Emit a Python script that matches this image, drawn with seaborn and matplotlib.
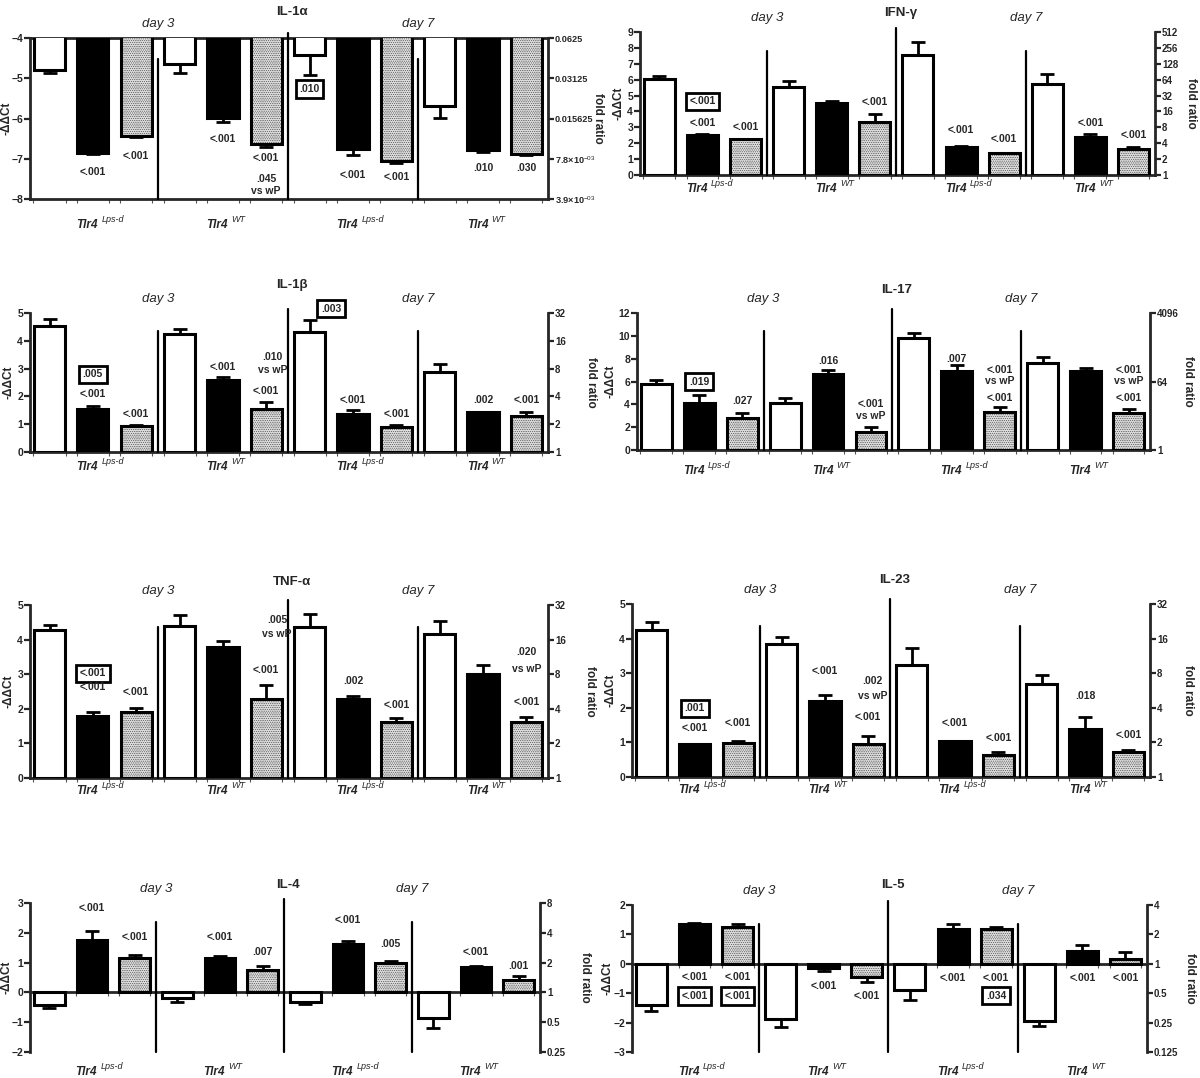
import numpy as np
import pandas as pd
import matplotlib
matplotlib.use("Agg")
import matplotlib.pyplot as plt
import seaborn as sns

# ---------------- data ----------------
treatments = ["open", "black", "dotted"]
group_strains = ["Lps-d", "WT", "Lps-d", "WT"]
day_labels = ["day 3", "day 7"]

il1a_mean = [-4.80, -6.85, -6.44, -4.64, -5.98, -6.63, -4.42, -6.75, -7.06, -5.70, -6.79, -6.87]
il1a_sem = [0.07, 0.02, 0.03, 0.23, 0.10, 0.09, 0.50, 0.16, 0.04, 0.28, 0.03, 0.03]
ifng_mean = [6.07, 2.51, 2.24, 5.54, 4.56, 3.35, 7.53, 1.78, 1.36, 5.75, 2.41, 1.63]
ifng_sem = [0.16, 0.04, 0.04, 0.36, 0.08, 0.46, 0.84, 0.06, 0.04, 0.59, 0.16, 0.15]
il1b_mean = [4.54, 1.54, 0.92, 4.25, 2.58, 1.56, 4.33, 1.36, 0.89, 2.86, 1.43, 1.30]
il1b_sem = [0.23, 0.13, 0.06, 0.17, 0.13, 0.23, 0.42, 0.14, 0.09, 0.30, 0.01, 0.14]
il17_mean = [5.76, 4.12, 2.82, 4.09, 6.65, 1.58, 9.78, 6.91, 3.31, 7.63, 6.96, 3.22]
il17_sem = [0.37, 0.68, 0.46, 0.46, 0.34, 0.43, 0.44, 0.51, 0.49, 0.49, 0.18, 0.38]
tnfa_mean = [4.29, 1.80, 1.91, 4.40, 3.80, 2.28, 4.35, 2.27, 1.63, 4.16, 3.01, 1.63]
tnfa_sem = [0.13, 0.11, 0.11, 0.32, 0.16, 0.42, 0.40, 0.09, 0.11, 0.37, 0.25, 0.13]
il23_mean = [4.26, 0.94, 0.98, 3.83, 2.20, 0.96, 3.25, 1.03, 0.63, 2.68, 1.40, 0.73]
il23_sem = [0.23, 0.02, 0.05, 0.22, 0.17, 0.23, 0.49, 0.02, 0.08, 0.28, 0.32, 0.06]
il4_mean = [-0.42, 1.76, 1.17, -0.18, 1.17, 0.74, -0.32, 1.63, 0.99, -0.87, 0.86, 0.42]
il4_sem = [0.09, 0.29, 0.08, 0.15, 0.04, 0.13, 0.07, 0.10, 0.08, 0.32, 0.03, 0.12]
il5_mean = [-1.39, 1.36, 1.24, -1.87, -0.14, -0.46, -0.88, 1.20, 1.17, -1.95, 0.45, 0.17]
il5_sem = [0.23, 0.04, 0.12, 0.28, 0.09, 0.16, 0.36, 0.16, 0.07, 0.18, 0.18, 0.22]

# right-axis (fold ratio) tick labels
il1a_fold = ["3.9×10$^{-03}$", "7.8×10$^{-03}$", "0.015625", "0.03125", "0.0625"]
ifng_fold = ["1", "2", "4", "8", "16", "32", "64", "128", "256", "512"]
il1b_fold = ["1", "2", "4", "8", "16", "32"]
il17_fold = ["1", "64", "4096"]
tnfa_fold = ["1", "2", "4", "8", "16", "32"]
il23_fold = ["1", "2", "4", "8", "16", "32"]
il4_fold = ["0.25", "0.5", "1", "2", "4", "8"]
il5_fold = ["0.125", "0.25", "0.5", "1", "2", "4"]

# p-value annotations: (bar slot, y, text, boxed)
il1a_notes = [(1, -7.34, "<.001", 0), (2, -6.92, "<.001", 0), (4, -6.52, "<.001", 0),
              (5, -6.99, "<.001", 0), (5, -7.5, ".045", 0), (5, -7.8, "vs wP", 0),
              (6, -5.27, ".010", 1), (7, -7.4, "<.001", 0), (8, -7.45, "<.001", 0),
              (10, -7.22, ".010", 0), (11, -7.22, ".030", 0)]
ifng_notes = [(1, 4.64, "<.001", 1), (1, 3.3, "<.001", 0), (2, 3.03, "<.001", 0),
              (5, 4.6, "<.001", 0), (7, 2.82, "<.001", 0), (8, 2.26, "<.001", 0),
              (10, 3.3, "<.001", 0), (11, 2.51, "<.001", 0)]
il1b_notes = [(1, 2.8, ".005", 1), (1, 2.08, "<.001", 0), (2, 1.36, "<.001", 0),
              (4, 3.06, "<.001", 0), (5.15, 3.4, ".010", 0), (5.15, 2.94, "vs wP", 0),
              (5, 2.19, "<.001", 0), (6.5, 5.16, ".003", 1), (7, 1.87, "<.001", 0),
              (8, 1.36, "<.001", 0), (10, 1.88, ".002", 0), (11, 1.88, "<.001", 0)]
il17_notes = [(1, 5.99, ".019", 1), (2, 4.26, ".027", 0), (4, 7.77, ".016", 0),
              (5, 4.03, "<.001", 0), (5, 2.96, "vs wP", 0), (7, 8.0, ".007", 0),
              (8, 7.05, "<.001", 0), (8, 6.04, "vs wP", 0), (8, 4.55, "<.001", 0),
              (11, 7.05, "<.001", 0), (11, 6.04, "vs wP", 0), (11, 4.55, "<.001", 0)]
tnfa_notes = [(1, 3.03, "<.001", 1), (1, 2.62, "<.001", 0), (2, 2.49, "<.001", 0),
              (5.25, 4.57, ".005", 0), (5.25, 4.16, "vs wP", 0), (5, 3.12, "<.001", 0),
              (7, 2.79, ".002", 0), (8, 2.11, "<.001", 0), (11, 3.63, ".020", 0),
              (11, 3.15, "vs wP", 0), (11, 2.21, "<.001", 0)]
il23_notes = [(1, 1.99, ".001", 1), (1, 1.43, "<.001", 0), (2, 1.57, "<.001", 0),
              (4, 3.05, "<.001", 0), (5.1, 2.77, ".002", 0), (5.1, 2.33, "vs wP", 0),
              (5, 1.74, "<.001", 0), (7, 1.57, "<.001", 0), (8, 1.14, "<.001", 0),
              (10, 2.35, ".018", 0), (11, 1.2, "<.001", 0)]
il4_notes = [(1, 2.82, "<.001", 0), (2, 1.85, "<.001", 0), (4, 1.87, "<.001", 0),
             (5, 1.35, ".007", 0), (7, 2.42, "<.001", 0), (8, 1.61, ".005", 0),
             (10, 1.37, "<.001", 0), (11, 0.87, ".001", 0)]
il5_notes = [(1, -0.46, "<.001", 0), (1, -1.1, "<.001", 1), (2, -0.46, "<.001", 0),
             (2, -1.1, "<.001", 1), (4, -0.76, "<.001", 0), (5, -1.1, "<.001", 0),
             (7, -0.49, "<.001", 0), (8, -0.49, "<.001", 0), (8, -1.08, ".034", 1),
             (10, -0.49, "<.001", 0), (11, -0.49, "<.001", 0)]

# ---------------- layout / style ----------------
W, H = 1200, 1078
panels = [
    dict(title="IL-1α", mean=il1a_mean, sem=il1a_sem, notes=il1a_notes, ylim=(-8, -4),
         yticks=[-8, -7, -6, -5, -4], rticks=[-8, -7, -6, -5, -4], rlabels=il1a_fold,
         box=(30, 548, 38, 199), top=True, zero_axis=False, lab_off=20,
         ylab_dx=-23, rlab_dx=50, title_dy=20, rsize=6.6),
    dict(title="IFN-γ", mean=ifng_mean, sem=ifng_sem, notes=ifng_notes, ylim=(0, 9),
         yticks=list(range(10)), rticks=list(range(10)), rlabels=ifng_fold,
         box=(640, 1155, 32, 175), top=False, zero_axis=False, lab_off=8,
         ylab_dx=-22, rlab_dx=36, title_dy=13, rsize=7),
    dict(title="IL-1β", mean=il1b_mean, sem=il1b_sem, notes=il1b_notes, ylim=(0, 5),
         yticks=list(range(6)), rticks=list(range(6)), rlabels=il1b_fold,
         box=(30, 548, 313, 452), top=False, zero_axis=False, lab_off=9,
         ylab_dx=-21, rlab_dx=43, title_dy=22, rsize=7),
    dict(title="IL-17", mean=il17_mean, sem=il17_sem, notes=il17_notes, ylim=(0, 12),
         yticks=list(range(0, 13, 2)), rticks=[0, 6, 12], rlabels=il17_fold,
         box=(637, 1150, 313, 450), top=False, zero_axis=False, lab_off=15,
         ylab_dx=-26, rlab_dx=38, title_dy=17, rsize=7),
    dict(title="TNF-α", mean=tnfa_mean, sem=tnfa_sem, notes=tnfa_notes, ylim=(0, 5),
         yticks=list(range(6)), rticks=list(range(6)), rlabels=tnfa_fold,
         box=(30, 548, 605, 778), top=False, zero_axis=False, lab_off=7,
         ylab_dx=-21, rlab_dx=42, title_dy=17, rsize=7),
    dict(title="IL-23", mean=il23_mean, sem=il23_sem, notes=il23_notes, ylim=(0, 5),
         yticks=list(range(6)), rticks=list(range(6)), rlabels=il23_fold,
         box=(632, 1150, 604, 777), top=False, zero_axis=False, lab_off=7,
         ylab_dx=-21, rlab_dx=38, title_dy=18, rsize=7),
    dict(title="IL-4", mean=il4_mean, sem=il4_sem, notes=il4_notes, ylim=(-2, 3),
         yticks=list(range(-2, 4)), rticks=list(range(-2, 4)), rlabels=il4_fold,
         box=(30, 540, 903, 1052), top=False, zero_axis=True, lab_off=14,
         ylab_dx=-23, rlab_dx=45, title_dy=12, rsize=7),
    dict(title="IL-5", mean=il5_mean, sem=il5_sem, notes=il5_notes, ylim=(-3, 2),
         yticks=list(range(-3, 3)), rticks=list(range(-3, 3)), rlabels=il5_fold,
         box=(632, 1147, 905, 1052), top=False, zero_axis=True, lab_off=14,
         ylab_dx=-24, rlab_dx=43, title_dy=14, rsize=7),
]

sns.set_style("ticks")
plt.rcParams["font.family"] = ["Liberation Sans", "DejaVu Sans"]
plt.rcParams["mathtext.fontset"] = "custom"
plt.rcParams["mathtext.rm"] = "Liberation Sans"
plt.rcParams["mathtext.it"] = "Liberation Sans:italic"
plt.rcParams["mathtext.bf"] = "Liberation Sans:bold"
plt.rcParams["hatch.linewidth"] = 0.25

bar_colors = {"open": "white", "black": "black", "dotted": "#dadada"}
PX = 72.0 / 100.0  # points per pixel

fig = plt.figure(figsize=(W / 100, H / 100), dpi=100)
fig.patch.set_facecolor("white")

for p in panels:
    l, r, t, b = p["box"]
    wpx = r - l
    ax = fig.add_axes([l / W, 1 - b / H, wpx / W, (b - t) / H])
    slots = [str(i) for i in range(12)]
    df = pd.DataFrame({"slot": slots, "value": p["mean"], "treatment": treatments * 4})
    sns.barplot(data=df, x="slot", y="value", hue="treatment", order=slots,
                hue_order=treatments, palette=bar_colors, dodge=False, width=0.72,
                edgecolor="black", linewidth=2.2, errorbar=None, legend=False,
                ax=ax, zorder=3)
    for bar in ax.containers[2]:
        bar.set_hatch("." * 9)

    x = np.arange(12)
    mean = np.asarray(p["mean"])
    sem = np.asarray(p["sem"])
    lower = np.where(mean < 0, sem, 0.0)
    upper = np.where(mean >= 0, sem, 0.0)
    ax.errorbar(x, mean, yerr=[lower, upper], fmt="none", ecolor="black",
                elinewidth=2.0, capsize=5, capthick=2.0, zorder=2)

    ax.set_xlim(-0.45, 11.5)
    ax.set_ylim(*p["ylim"])
    ax.set_yticks(p["yticks"])
    ax.set_xlabel("")
    ax.set_ylabel("")
    edges = np.sort(np.concatenate([x - 0.37, x + 0.37]))
    ax.set_xticks(edges)
    ax.set_xticklabels([])
    ax.tick_params(axis="x", length=3, width=0.8, color="#555555", direction="out")
    ax.tick_params(axis="y", length=4, width=1.6, labelsize=7.5, pad=1)
    for lab in ax.get_yticklabels():
        lab.set_fontweight("bold")
    for s in ["left", "bottom", "top"]:
        ax.spines[s].set_linewidth(2.0)
    ax.spines["right"].set_visible(False)
    ax.spines["top"].set_visible(p["top"])
    if p["zero_axis"]:
        ax.spines["bottom"].set_position(("data", 0))

    tw = ax.twinx()
    tw.set_ylim(*p["ylim"])
    tw.set_yticks(p["rticks"])
    tw.set_yticklabels(p["rlabels"])
    tw.tick_params(axis="y", length=4, width=1.6, labelsize=p["rsize"], pad=1)
    for lab in tw.get_yticklabels():
        lab.set_fontweight("bold")
    for s in ["left", "bottom", "top"]:
        tw.spines[s].set_visible(False)
    tw.spines["right"].set_linewidth(2.0)

    # axis titles placed at fixed pixel offsets from the axes
    ax.text(p["ylab_dx"] / wpx, 0.5, "-ΔΔCt", transform=ax.transAxes, rotation=90,
            ha="center", va="center", fontweight="bold", fontsize=8.5)
    ax.text(1 + p["rlab_dx"] / wpx, 0.5, "fold ratio", transform=ax.transAxes,
            rotation=270, ha="center", va="center", fontweight="bold", fontsize=8.5)

    # group separators
    ax.axvline(2.5, 0, 0.87, color="black", lw=1.6, clip_on=False, zorder=4)
    ax.axvline(5.5, 0, 1.03, color="black", lw=1.6, clip_on=False, zorder=4)
    ax.axvline(8.5, 0, 0.87, color="black", lw=1.6, clip_on=False, zorder=4)

    # titles
    ax.annotate(p["title"], xy=(5.6, 1), xycoords=("data", "axes fraction"),
                xytext=(0, p["title_dy"] * PX), textcoords="offset points", ha="center",
                va="bottom", fontweight="bold", fontsize=9.5)
    for dx, dl in zip([2.5, 8.5], day_labels):
        ax.annotate(dl, xy=(dx, 1), xycoords=("data", "axes fraction"),
                    xytext=(0, 8 * PX), textcoords="offset points", ha="center",
                    va="bottom", style="italic", fontsize=9.5)

    # group (strain) labels
    for gi, strain in enumerate(group_strains):
        cx = 3 * gi + 1
        ax.annotate("Tlr4", xy=(cx + 0.12, 0), xycoords=("data", "axes fraction"),
                    xytext=(0, -p["lab_off"] * PX), textcoords="offset points",
                    ha="right", va="top", fontweight="bold", style="italic", fontsize=8.5)
        ax.annotate(strain, xy=(cx + 0.2, 0), xycoords=("data", "axes fraction"),
                    xytext=(0, (-p["lab_off"] + 4) * PX), textcoords="offset points",
                    ha="left", va="top", style="italic", fontsize=6.5)

    # p-value annotations
    for sx, sy, txt, boxed in p["notes"]:
        kw = {}
        if boxed:
            kw["bbox"] = dict(boxstyle="square,pad=0.35", fc="white", ec="black", lw=2.0)
        ax.text(sx, sy, txt, ha="center", va="center", fontweight="bold",
                fontsize=7.5, zorder=6, clip_on=False, **kw)

fig.savefig("out.png", dpi=100, facecolor="white")
